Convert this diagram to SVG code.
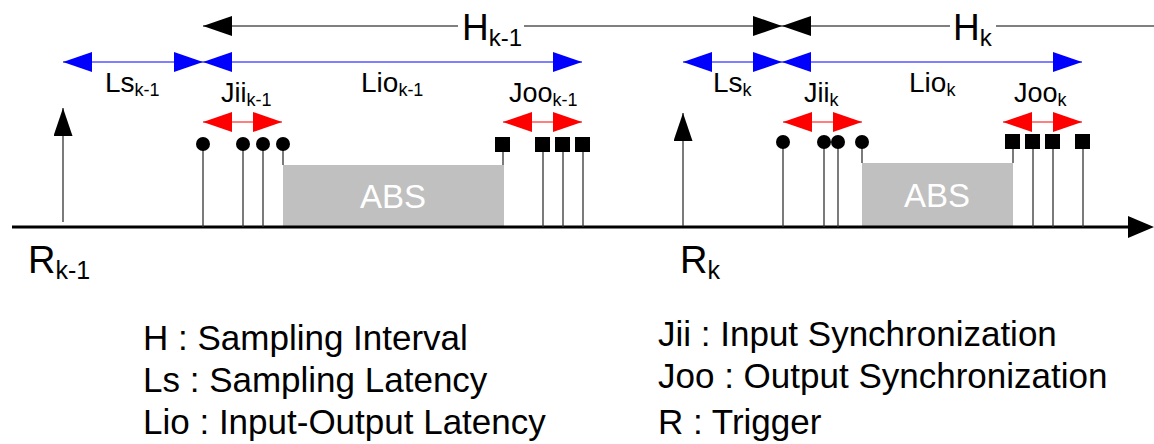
<svg xmlns="http://www.w3.org/2000/svg" width="1154" height="444" viewBox="0 0 1154 444">
<defs>
<marker id="ahk" markerUnits="userSpaceOnUse" markerWidth="30" markerHeight="20" refX="29" refY="10" orient="auto-start-reverse" viewBox="0 0 30 20"><path d="M0,0 L29,10 L0,20 z" fill="#000"/></marker>
<marker id="ahb" markerUnits="userSpaceOnUse" markerWidth="30" markerHeight="20" refX="29" refY="10" orient="auto-start-reverse" viewBox="0 0 30 20"><path d="M0,0 L29,10 L0,20 z" fill="#0000ff"/></marker>
<marker id="ahr" markerUnits="userSpaceOnUse" markerWidth="30" markerHeight="20" refX="29" refY="10" orient="auto-start-reverse" viewBox="0 0 30 20"><path d="M0,0 L29,10 L0,20 z" fill="#ff0000"/></marker>
<marker id="aht" markerUnits="userSpaceOnUse" markerWidth="20" markerHeight="29" refX="9.5" refY="0" orient="0" viewBox="0 0 20 29"><path d="M9.5,0 L19,28 L0,28 z" fill="#000"/></marker>
</defs>
<style>
text{font-family:"Liberation Sans",Arial,sans-serif;fill:#000}
.big{font-size:37px}
.lab{font-size:28px}
.lab2{font-size:27px}
.leg{font-size:35px}
.abs{font-size:33px;fill:#fff;text-anchor:middle}
.hl{stroke:#000;stroke-width:1.2;fill:none}
.bl{stroke:#0000ff;stroke-width:1.2;fill:none}
.rl{stroke:#ff0000;stroke-width:1.2;fill:none}
.stem{stroke:#333;stroke-width:1.3}
.box{fill:#c0c0c0}
</style>
<rect width="1154" height="444" fill="#fff"/>

<g id="abs1"><rect class="box" x="283" y="165" width="221" height="63"/><text class="abs" x="393" y="208">ABS</text></g>
<g id="abs2"><rect class="box" x="862" y="163" width="151" height="65"/><text class="abs" x="937" y="207">ABS</text></g>

<g id="connectors">
<line class="hl" x1="203" y1="26" x2="782" y2="26" marker-start="url(#ahk)" marker-end="url(#ahk)"/>
<line class="hl" x1="782" y1="26" x2="1154" y2="26" marker-start="url(#ahk)"/>
<line class="bl" x1="63" y1="62" x2="203" y2="62" marker-start="url(#ahb)" marker-end="url(#ahb)"/>
<line class="bl" x1="203" y1="62" x2="582" y2="62" marker-start="url(#ahb)" marker-end="url(#ahb)"/>
<line class="bl" x1="683" y1="62" x2="782" y2="62" marker-start="url(#ahb)" marker-end="url(#ahb)"/>
<line class="bl" x1="782" y1="62" x2="1082" y2="62" marker-start="url(#ahb)" marker-end="url(#ahb)"/>
<line class="rl" x1="203" y1="122" x2="282" y2="122" marker-start="url(#ahr)" marker-end="url(#ahr)"/>
<line class="rl" x1="503" y1="122" x2="582" y2="122" marker-start="url(#ahr)" marker-end="url(#ahr)"/>
<line class="rl" x1="783" y1="122" x2="862" y2="122" marker-start="url(#ahr)" marker-end="url(#ahr)"/>
<line class="rl" x1="1003" y1="122" x2="1082" y2="122" marker-start="url(#ahr)" marker-end="url(#ahr)"/>
<line x1="12" y1="227" x2="1132" y2="227" stroke="#000" stroke-width="3"/>
<polygon points="1128,216 1154,227 1128,238" fill="#000"/>
<line class="stem" x1="63" y1="222" x2="63" y2="108" marker-end="url(#aht)"/>
<line class="stem" x1="683" y1="226" x2="683" y2="113" marker-end="url(#aht)"/>
<line class="stem" x1="203" y1="144" x2="203" y2="227"/>
<line class="stem" x1="243" y1="144" x2="243" y2="227"/>
<line class="stem" x1="263" y1="144" x2="263" y2="227"/>
<line class="stem" x1="283" y1="144" x2="283" y2="165"/>
<line class="stem" x1="503" y1="144" x2="503" y2="165"/>
<line class="stem" x1="543" y1="144" x2="543" y2="227"/>
<line class="stem" x1="563" y1="144" x2="563" y2="227"/>
<line class="stem" x1="583" y1="144" x2="583" y2="227"/>
<line class="stem" x1="783" y1="142" x2="783" y2="227"/>
<line class="stem" x1="824" y1="142" x2="824" y2="227"/>
<line class="stem" x1="838" y1="142" x2="838" y2="227"/>
<line class="stem" x1="862" y1="142" x2="862" y2="163"/>
<line class="stem" x1="1013" y1="141" x2="1013" y2="163"/>
<line class="stem" x1="1033" y1="141" x2="1033" y2="227"/>
<line class="stem" x1="1053" y1="141" x2="1053" y2="227"/>
<line class="stem" x1="1083" y1="141" x2="1083" y2="227"/>
</g>

<g id="inputs-k-1">
<circle cx="203" cy="144" r="7"/><circle cx="243" cy="144" r="7"/><circle cx="263" cy="144" r="7"/><circle cx="283" cy="144" r="7"/>
</g>
<g id="outputs-k-1">
<rect x="495" y="137" width="15" height="15"/><rect x="535" y="137" width="15" height="15"/><rect x="555" y="137" width="15" height="15"/><rect x="575" y="137" width="15" height="15"/>
</g>
<g id="inputs-k">
<circle cx="783" cy="142" r="7"/><circle cx="824" cy="142" r="7"/><circle cx="838" cy="142" r="7"/><circle cx="862" cy="142" r="7"/>
</g>
<g id="outputs-k">
<rect x="1005" y="134" width="15" height="15"/><rect x="1025" y="134" width="15" height="15"/><rect x="1045" y="134" width="15" height="15"/><rect x="1075" y="134" width="15" height="15"/>
</g>

<g id="labels">
<rect x="458" y="8" width="66" height="38" fill="#fff"/>
<text class="big" x="462" y="40">H<tspan font-size="24" dy="6">k-1</tspan></text>
<rect x="950" y="8" width="46" height="38" fill="#fff"/>
<text class="big" x="953" y="40">H<tspan font-size="24" dy="6">k</tspan></text>
<text class="lab" x="105" y="92">Ls<tspan font-size="18" dy="4">k-1</tspan></text>
<text class="lab" x="361" y="92">Lio<tspan font-size="18" dy="4">k-1</tspan></text>
<text class="lab2" x="221" y="102">Jii<tspan font-size="18" dy="4">k-1</tspan></text>
<text class="lab2" x="509" y="102">Joo<tspan font-size="18" dy="4">k-1</tspan></text>
<text class="lab" x="713" y="92">Ls<tspan font-size="18" dy="4">k</tspan></text>
<text class="lab" x="909" y="92">Lio<tspan font-size="18" dy="4">k</tspan></text>
<text class="lab2" x="804" y="102">Jii<tspan font-size="18" dy="4">k</tspan></text>
<text class="lab2" x="1014" y="102">Joo<tspan font-size="18" dy="4">k</tspan></text>
<text font-size="38" x="28" y="273">R<tspan font-size="25" dy="6">k-1</tspan></text>
<text font-size="38" x="680" y="273">R<tspan font-size="25" dy="6">k</tspan></text>
</g>

<g id="legend">
<text class="leg" x="143" y="350">H : Sampling Interval</text>
<text class="leg" x="143" y="392">Ls : Sampling Latency</text>
<text class="leg" x="143" y="434">Lio : Input-Output Latency</text>
<text class="leg" x="658" y="346">Jii : Input Synchronization</text>
<text class="leg" x="658" y="388">Joo : Output Synchronization</text>
<text class="leg" x="658" y="434">R : Trigger</text>
</g>
</svg>
